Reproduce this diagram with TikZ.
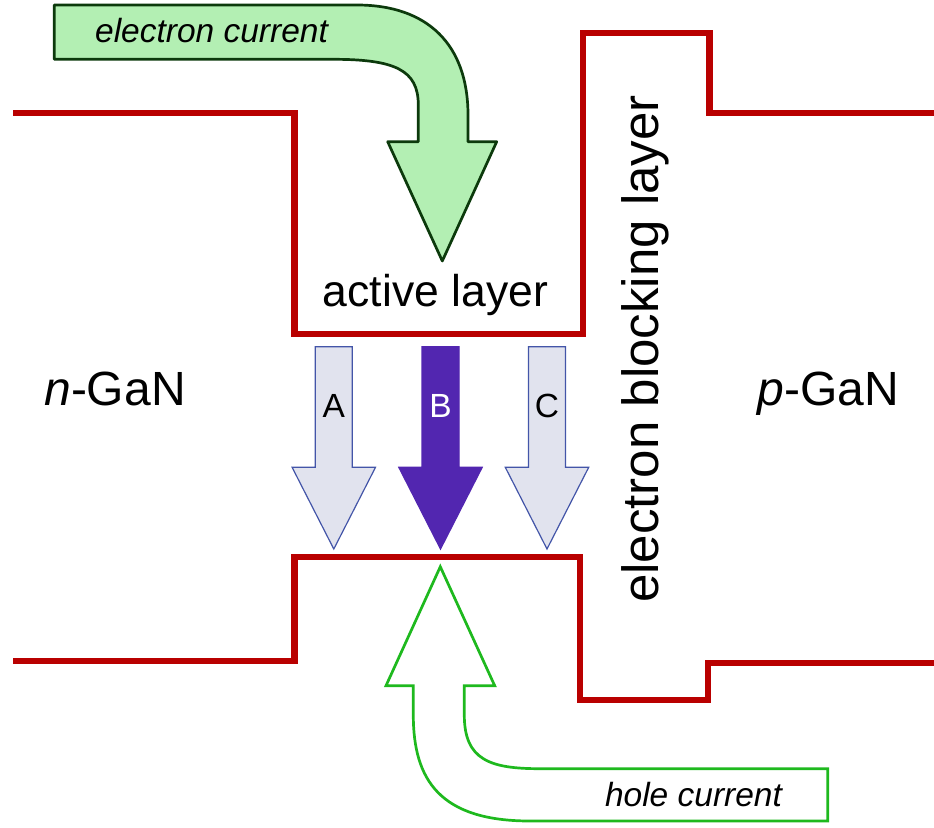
\documentclass[tikz,border=0pt]{standalone}
\usepackage{fontspec}
\setmainfont{Liberation Sans}
\definecolor{bandred}{RGB}{185,0,0}
\definecolor{elfill}{RGB}{179,239,179}
\definecolor{eldraw}{RGB}{12,58,12}
\definecolor{holegreen}{RGB}{30,185,30}
\definecolor{abcfill}{RGB}{225,227,238}
\definecolor{abcdraw}{RGB}{67,85,168}
\definecolor{bpurple}{RGB}{82,38,176}
\tikzset{
  band/.style={draw=bandred, line width=6.5pt, miter limit=10},
  elarrow/.style={draw=eldraw, fill=elfill, line width=2.7pt, line join=round},
  holearrow/.style={draw=holegreen, fill=white, line width=2.7pt, line join=miter},
  lightarrow/.style={draw=abcdraw, fill=abcfill, line width=1.2pt},
  darkarrow/.style={draw=bpurple, fill=bpurple, line width=1.2pt},
  biglabel/.style={anchor=base, inner sep=0pt, font=\fontsize{48}{56}\selectfont},
  smalllabel/.style={anchor=base, inner sep=0pt, font=\fontsize{33.5}{40}\selectfont\itshape},
  letterlabel/.style={anchor=base, inner sep=0pt, font=\fontsize{33.5}{40}\selectfont}
}
\begin{document}
\begin{tikzpicture}[x=1pt, y=-1pt]
\useasboundingbox (0,0) rectangle (934,827);
% conduction band
\draw[band] (13,113) -- (294.5,113) -- (294.5,334) -- (583,334) -- (583,33) -- (709.7,33) -- (709.7,113) -- (934,113);
% valence band
\draw[band] (13,661) -- (294.5,661) -- (294.5,557) -- (580,557) -- (580,700) -- (708,700) -- (708,663) -- (934,663);
% electron current arrow
\draw[elarrow] (54.3,5) -- (357,5) .. controls (428,5) and (468,45) .. (468,115) -- (468,141.7) -- (496.7,141.7) -- (442.3,261) -- (387.7,141.7) -- (418.3,141.7) -- (418.3,105) .. controls (418.3,70) and (395,59.3) .. (333,59.3) -- (54.3,59.3) -- cycle;
\node[smalllabel] (ecur) at (211.5,42.7) {electron current};
% hole current arrow
\draw[holearrow] (440.3,566.7) -- (494.7,685.7) -- (464.3,685.7) -- (464.3,715) .. controls (464.3,760) and (490,768.7) .. (540,768.7) -- (827.7,768.7) -- (827.7,821) -- (530,821) .. controls (440,821) and (413.3,780) .. (413.3,715) -- (413.3,685.7) -- (386,685.7) -- cycle;
\node[smalllabel] (hcur) at (693.5,806.7) {hole current};
% A B C arrows
\draw[lightarrow] (315.3,346.7) -- (352.3,346.7) -- (352.3,467.3) -- (375.5,467.3) -- (333.8,549) -- (292.1,467.3) -- (315.3,467.3) -- cycle;
\draw[darkarrow] (422,346.7) -- (459,346.7) -- (459,467.3) -- (482.2,467.3) -- (440.5,549) -- (398.8,467.3) -- (422,467.3) -- cycle;
\draw[lightarrow] (528.5,346.7) -- (565.5,346.7) -- (565.5,467.3) -- (588.7,467.3) -- (547,549) -- (505.3,467.3) -- (528.5,467.3) -- cycle;
\node[letterlabel] (la) at (333.8,417.3) {A};
\node[letterlabel, text=white] (lb) at (440.5,417.3) {B};
\node[letterlabel] (lc) at (547,417.3) {C};
% labels
\node[biglabel, font=\fontsize{44.5}{52}\selectfont] (act) at (435.5,306.7) {active layer};
\node[biglabel] (ngan) at (115,405) {\textit{n}-GaN};
\node[biglabel] (pgan) at (828,405) {\textit{p}-GaN};
\node[biglabel, font=\fontsize{51}{60}\selectfont, rotate=90] (ebl) at (658,349) {electron blocking layer};
\end{tikzpicture}
\end{document}
